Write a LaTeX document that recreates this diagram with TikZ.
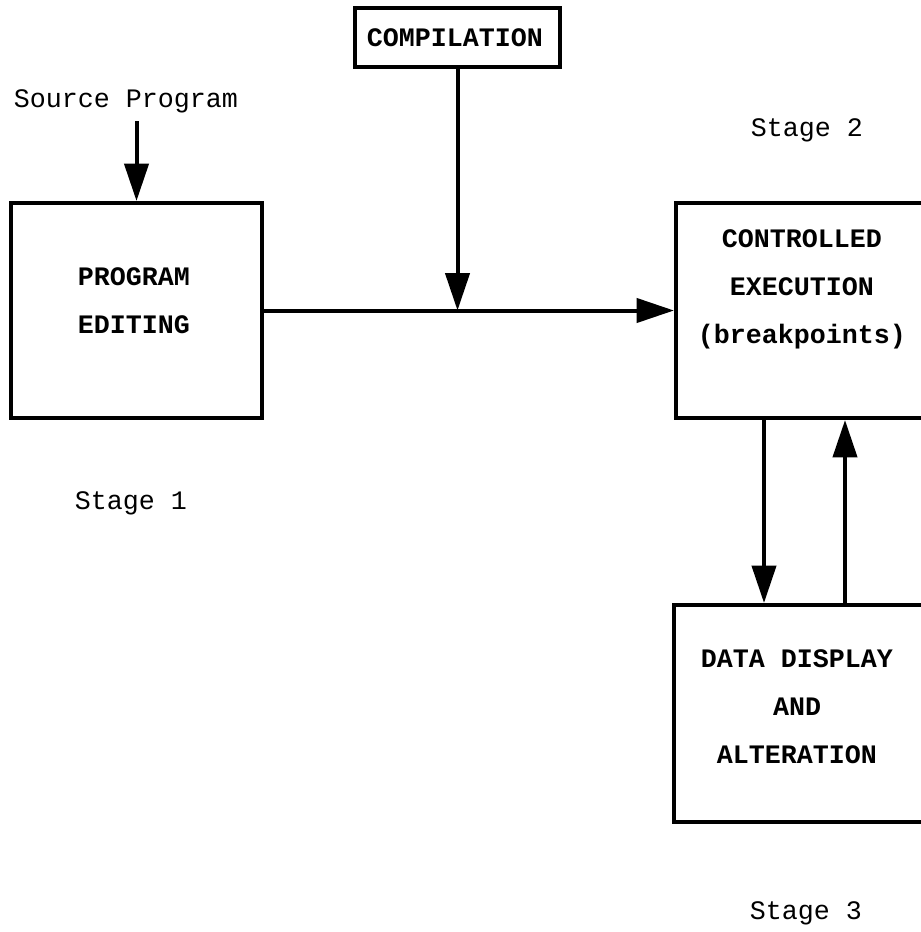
\documentclass[tikz,border=0pt]{standalone}
\usepackage{fontspec}
\setmonofont{Liberation Mono}
\usetikzlibrary{arrows.meta}

\tikzset{
  stagebox/.style={draw=black, line width=3pt, inner sep=0pt},
  boxtext/.style={font=\ttfamily\bfseries\fontsize{20}{36}\selectfont, align=center},
  labeltext/.style={font=\ttfamily\fontsize{20}{24}\selectfont},
  flow/.style={line width=3pt, -{Triangle[length=28pt,width=18pt]}}
}

\begin{document}
\begin{tikzpicture}[x=0.75pt,y=-0.75pt]

\useasboundingbox (0,0) rectangle (921,932);

% The boxes
\node[stagebox, minimum width=188.25pt, minimum height=161.25pt] (edit) at (136.5,310.5) {};
\node[stagebox, minimum width=153.75pt, minimum height=44.25pt] (comp) at (457.5,37.5) {};
\node[stagebox, minimum width=186.75pt, minimum height=161.25pt] (exec) at (800.5,310.5) {};
\node[stagebox, minimum width=188.25pt, minimum height=162.75pt] (data) at (799.5,713.5) {};

% The box texts
\node[boxtext] (edittxt) at (134,301) {PROGRAM\\EDITING};
\node[boxtext] (comptxt) at (455,38) {COMPILATION};
\node[boxtext] (exectxt) at (802,289) {CONTROLLED\\EXECUTION\\(breakpoints)};
\node[boxtext] (datatxt) at (797,707) {DATA DISPLAY\\AND\\ALTERATION};

% The labels
\node[labeltext] (src) at (126,101) {Source Program};
\node[labeltext] (stage1) at (131,503) {Stage 1};
\node[labeltext] (stage2) at (807,130) {Stage 2};
\node[labeltext] (stage3) at (806,913) {Stage 3};

% The connectors
\coordinate (join) at (comp.south |- edit.east);
\coordinate (down) at (764,0);
\coordinate (up) at (845,0);
\draw[flow] (src.south -| edit.north) ++(0,4) -- (edit.north);
\draw[line width=3pt] (edit.east) -- (join);
\draw[flow] (join) -- (exec.west);
\draw[flow] (comp.south) -- (join);
\draw[flow] (exec.south -| down) -- (data.north -| down);
\draw[flow] (data.north -| up) -- (exec.south -| up);

\end{tikzpicture}
\end{document}
